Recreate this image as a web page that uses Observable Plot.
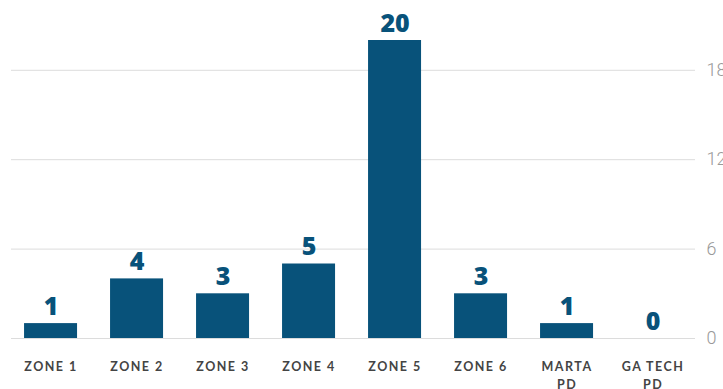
<!DOCTYPE html>
<html><head><meta charset="utf-8">
<script src="https://cdn.jsdelivr.net/npm/d3@7"></script>
<script src="https://cdn.jsdelivr.net/npm/@observablehq/plot@0.6"></script>
<style>
body{margin:0;background:#fff;}
#chart svg{display:block;}
</style>
</head><body><div id="chart"></div>
<script>
const categories = ["ZONE 1","ZONE 2","ZONE 3","ZONE 4","ZONE 5","ZONE 6","MARTA PD","GA TECH PD"];
const values = [1,4,3,5,20,3,1,0];
const yTicks = [0,6,12,18];

const data = categories.map((c,i)=>({cat:c, value:values[i]}));
const barColor = "#08527a";

const chart = Plot.plot({
  width: 723,
  height: 389,
  marginLeft: 11,
  marginRight: 28,
  marginTop: 40,
  marginBottom: 51,
  style: {background:"#fff"},
  x: {domain: categories, paddingInner: 0.3837, paddingOuter: 0.1686, align: 0.45, round: false, label: null},
  y: {domain: [0,20], label: null},
  marks: [
    Plot.ruleY(yTicks, {stroke:"#dcdcdc", strokeWidth:1}),
    Plot.barY(data, {x:"cat", y:"value", fill: barColor}),
    Plot.text(data, {x:"cat", y:"value", text: d=>String(d.value), dy:-17, fill: barColor,
      fontSize: 25, fontWeight: 800, fontFamily: "'Open Sans', Lato, sans-serif"}),
    Plot.axisX({tickSize:0, tickPadding:20, fontSize:12.5, fontWeight:700, lineHeight:1.45,
      fontFamily:"Lato, 'Open Sans', sans-serif", fill:"#444",
      tickFormat: d => d.replace(/ (PD)$/, "\n$1")}),
    Plot.axisY({anchor:"right", ticks: yTicks, tickSize:0, tickPadding:11, fontSize:18,
      fontFamily:"Roboto, sans-serif", fill:"#999", fontWeight:300, label:null})
  ]
});
chart.querySelectorAll("g[aria-label='x-axis tick label'] text").forEach(t=>t.style.letterSpacing="1.5px");
document.getElementById("chart").appendChild(chart);
</script>
</body></html>
